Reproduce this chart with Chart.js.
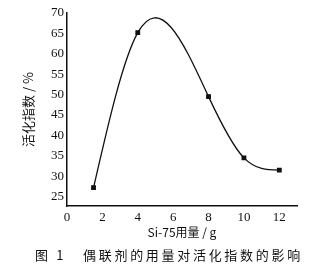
<!DOCTYPE html>
<html>
<head>
<meta charset="utf-8">
<script src="https://cdn.jsdelivr.net/npm/chart.js@4/dist/chart.umd.min.js"></script>
<style>
  html, body { margin: 0; padding: 0; background: #fff; }
  #wrap { position: relative; width: 315px; height: 267px; }
  #caption {
    position: absolute; left: 35px; top: 245px; width: 280px;
    font-family: "Noto Sans CJK SC", serif; font-size: 13px; color: #111;
    letter-spacing: 2.7px; white-space: nowrap;
  }
</style>
</head>
<body>
<div id="wrap">
  <canvas id="chart" width="315" height="267"></canvas>
  <div id="caption">图 1&nbsp;&nbsp;&nbsp;偶联剂的用量对活化指数的影响</div>
</div>
<script>
var dosage = [1.5, 4, 8, 10, 12];
var activity = [27.2, 65.2, 49.5, 34.5, 31.5];
var yTicks = [25, 30, 35, 40, 45, 50, 55, 60, 65, 70];
var xTicks = [0, 2, 4, 6, 8, 10, 12];

// slopes of a natural cubic spline through the points (data space)
function splineSlopes(xs, ys) {
  var n = xs.length, h = [], s = [], i;
  for (i = 0; i < n - 1; i++) {
    h.push(xs[i + 1] - xs[i]);
    s.push((ys[i + 1] - ys[i]) / h[i]);
  }
  // tridiagonal system for second derivatives M (M0 = Mn-1 = 0)
  var a = [], b = [], c = [], d = [];
  for (i = 1; i < n - 1; i++) {
    a.push(h[i - 1]);
    b.push(2 * (h[i - 1] + h[i]));
    c.push(h[i]);
    d.push(6 * (s[i] - s[i - 1]));
  }
  var m = d.length;
  for (i = 1; i < m; i++) {
    var w = a[i] / b[i - 1];
    b[i] -= w * c[i - 1];
    d[i] -= w * d[i - 1];
  }
  var M = new Array(n).fill(0);
  for (i = m - 1; i >= 0; i--) {
    M[i + 1] = (d[i] - (i < m - 1 ? c[i] * M[i + 2] : 0)) / b[i];
  }
  var slopes = [];
  for (i = 0; i < n - 1; i++) {
    slopes.push(s[i] - h[i] * (2 * M[i] + M[i + 1]) / 6);
  }
  slopes.push(s[n - 2] + h[n - 2] * (M[n - 2] + 2 * M[n - 1]) / 6);
  return slopes;
}

var splinePlugin = {
  id: "naturalSpline",
  beforeDatasetsDraw: function (chart) {
    var meta = chart.getDatasetMeta(0);
    var xs = chart.scales.x, ys = chart.scales.y;
    meta.dataset.updateControlPoints(chart.chartArea, "x");
    var k = splineSlopes(dosage, activity);
    meta.data.forEach(function (pt, i) {
      if (i > 0) {
        var hp = (dosage[i] - dosage[i - 1]) / 3;
        pt.cp1x = xs.getPixelForValue(dosage[i] - hp);
        pt.cp1y = ys.getPixelForValue(activity[i] - k[i] * hp);
      }
      if (i < dosage.length - 1) {
        var hn = (dosage[i + 1] - dosage[i]) / 3;
        pt.cp2x = xs.getPixelForValue(dosage[i] + hn);
        pt.cp2y = ys.getPixelForValue(activity[i] + k[i] * hn);
      }
    });
  },
};

var ctx = document.getElementById("chart").getContext("2d");

var chart = new Chart(ctx, {
  type: "line",
  data: {
    datasets: [
      {
        label: "活化指数",
        data: dosage.map(function (x, i) { return { x: x, y: activity[i] }; }),
        borderColor: "#111",
        backgroundColor: "#111",
        borderWidth: 1.3,
        tension: 0.4,
        pointStyle: "rect",
        pointRadius: 2.5,
      },
    ],
  },
  plugins: [splinePlugin],
  options: {
    responsive: false,
    animation: false,
    elements: { line: { capBezierPoints: false } },
    layout: { padding: { top: 13, right: 18, left: 20, bottom: 27 } },
    plugins: {
      legend: { display: false },
      tooltip: { enabled: false },
    },
    scales: {
      x: {
        type: "linear",
        min: 0,
        max: 13,
        afterFit: function (s) { s.height = 34; },
        afterBuildTicks: function (s) {
          s.ticks = xTicks.map(function (v) { return { value: v }; });
        },
        grid: { display: false, drawTicks: false },
        border: { color: "#111", width: 1.5 },
        ticks: {
          color: "#111",
          padding: 4,
          maxRotation: 0,
          font: { family: "Liberation Serif", size: 13 },
        },
        title: {
          display: true,
          text: "Si-75用量 / g",
          color: "#111",
          padding: { top: 0, bottom: 0 },
          font: { family: "Noto Sans CJK SC", size: 12 },
        },
      },
      y: {
        type: "linear",
        min: 22.7,
        max: 70,
        afterFit: function (s) { s.width = 47; },
        afterBuildTicks: function (s) {
          s.ticks = yTicks.map(function (v) { return { value: v }; });
        },
        grid: { display: false, drawTicks: false },
        border: { color: "#111", width: 1.5 },
        ticks: {
          color: "#111",
          padding: 3,
          font: { family: "Liberation Serif", size: 13 },
        },
        title: {
          display: true,
          text: "活化指数 / %",
          color: "#111",
          padding: { top: 0, bottom: 4 },
          font: { family: "Noto Sans CJK SC", size: 13 },
        },
      },
    },
  },
});
</script>
</body>
</html>
